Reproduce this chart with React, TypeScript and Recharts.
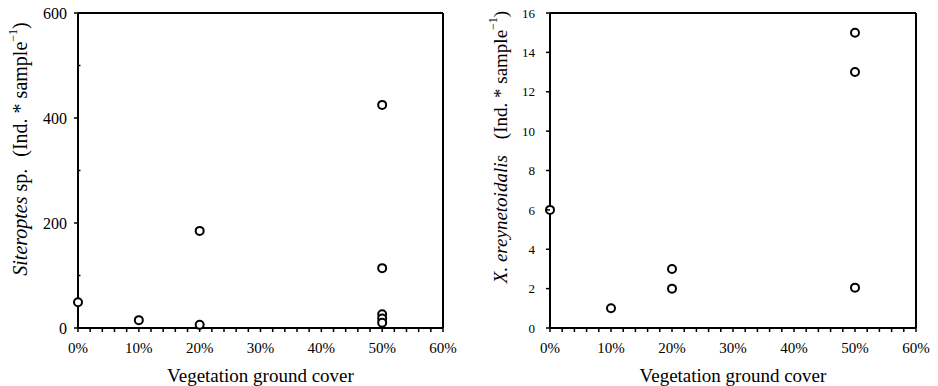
import { Label, ReferenceLine, Scatter, ScatterChart, XAxis, YAxis } from "recharts";

// % vegetation ground cover per sample
const coverLeft = [0, 10, 20, 20, 50, 50, 50, 50, 50];
const siteroptes = [49, 15, 185, 6, 425, 114, 26, 18, 10];

const coverRight = [0, 10, 20, 20, 50, 50, 50];
const ereynetoidalis = [6, 1, 3, 2, 15, 13, 2.05];

const xTicks = [0, 2, 4, 6, 8, 10, 12, 14, 16, 18, 20, 22, 24, 26, 28, 30, 32, 34, 36, 38, 40, 42, 44, 46, 48, 50, 52, 54, 56, 58, 60];
const leftYTicks = [0, 100, 200, 300, 400, 500, 600];
const rightYTicks = [0, 2, 4, 6, 8, 10, 12, 14, 16];

const font = "'Liberation Serif', 'Times New Roman', serif";

const leftData = coverLeft.map((x, i) => ({ x, y: siteroptes[i] }));
const rightData = coverRight.map((x, i) => ({ x, y: ereynetoidalis[i] }));

const OpenCircle = (props: any) => (
  <circle cx={props.cx} cy={props.cy} r={4} fill="#fff" stroke="#000" strokeWidth={2} />
);

// x axis: ticks every 2%, labels every 10%
const XTick = (props: any) => {
  const { x, y, payload } = props;
  const ay = y - 14;
  return (
    <g>
      <line x1={x} x2={x} y1={ay} y2={ay + 4} stroke="#000" strokeWidth={1.5} />
      {payload.value % 10 === 0 && (
        <text x={x} y={y} dy="0.72em" textAnchor="middle" fontSize={15} fontFamily={font} fill="#000">
          {`${payload.value}%`}
        </text>
      )}
    </g>
  );
};

// left chart: labelled ticks outward, unlabelled minor ticks inward
const LeftTick = (props: any) => {
  const { x, y, payload } = props;
  const ax = x + 11;
  if (payload.value % 200 !== 0) {
    return <line x1={ax} x2={ax + 2.5} y1={y} y2={y} stroke="#000" strokeWidth={1.5} />;
  }
  return (
    <g>
      <line x1={ax} x2={ax - 4} y1={y} y2={y} stroke="#000" strokeWidth={1.5} />
      <text x={x} y={y} dy="0.36em" textAnchor="end" fontSize={16} fontFamily={font} fill="#000">
        {payload.value}
      </text>
    </g>
  );
};

const RightTick = (props: any) => {
  const { x, y, payload } = props;
  const ax = x + 15;
  return (
    <g>
      <line x1={ax} x2={ax - 4} y1={y} y2={y} stroke="#000" strokeWidth={1.5} />
      <text x={x} y={y} dy="0.36em" textAnchor="end" fontSize={13} fontFamily={font} fill="#000">
        {payload.value}
      </text>
    </g>
  );
};

const leftLabel = (props: any) => {
  const vb = props.viewBox;
  const cx = vb.x + 20;
  const cy = 149;
  return (
    <text x={cx} y={cy} transform={`rotate(-90 ${cx} ${cy})`} textAnchor="middle" dominantBaseline="central" fontSize={20} fontFamily={font} fill="#000">
      <tspan fontStyle="italic">Siteroptes</tspan>
      <tspan> sp.</tspan>
      <tspan dx={12}>(Ind. * sample</tspan>
      <tspan fontSize={12} dy={-7}>−1</tspan>
      <tspan dy={7}>)</tspan>
    </text>
  );
};

const rightLabel = (props: any) => {
  const vb = props.viewBox;
  const cx = vb.x + 30;
  const cy = 147;
  return (
    <text x={cx} y={cy} transform={`rotate(-90 ${cx} ${cy})`} textAnchor="middle" dominantBaseline="central" fontSize={19} fontFamily={font} fill="#000">
      <tspan fontStyle="italic">X. ereynetoidalis</tspan>
      <tspan dx={16}>(Ind. * sample</tspan>
      <tspan fontSize={12} dy={-7}>−1</tspan>
      <tspan dy={7}>)</tspan>
    </text>
  );
};

const axisStyle = { stroke: "#000", strokeWidth: 2 };

export default function App() {
  return (
    <div style={{ position: "absolute", left: 0, top: 0, width: 938, height: 386, background: "#fff", display: "flex" }}>
      <ScatterChart width={470} height={386} margin={{ top: 13, right: 27, bottom: 0, left: 0 }}>
        <XAxis
          type="number"
          dataKey="x"
          domain={[0, 60]}
          ticks={xTicks}
          interval={0}
          tickSize={4}
          tickMargin={10}
          height={58}
          axisLine={axisStyle}
          tickLine={false}
          tick={<XTick />}
        >
          <Label value="Vegetation ground cover" position="insideBottom" offset={4} fontSize={19} fontFamily={font} fill="#000" />
        </XAxis>
        <YAxis
          type="number"
          dataKey="y"
          domain={[0, 600]}
          ticks={leftYTicks}
          interval={0}
          width={78}
          tickSize={4}
          tickMargin={7}
          axisLine={axisStyle}
          tickLine={false}
          tick={<LeftTick />}
        >
          <Label content={leftLabel} />
        </YAxis>
        <ReferenceLine y={600} stroke="#000" strokeWidth={2} />
        <ReferenceLine x={60} stroke="#000" strokeWidth={2} />
        <Scatter data={leftData} shape={OpenCircle} isAnimationActive={false} />
      </ScatterChart>
      <ScatterChart width={468} height={386} margin={{ top: 13, right: 22, bottom: 0, left: 0 }}>
        <XAxis
          type="number"
          dataKey="x"
          domain={[0, 60]}
          ticks={xTicks}
          interval={0}
          tickSize={4}
          tickMargin={10}
          height={58}
          axisLine={axisStyle}
          tickLine={false}
          tick={<XTick />}
        >
          <Label value="Vegetation ground cover" position="insideBottom" offset={4} fontSize={19} fontFamily={font} fill="#000" />
        </XAxis>
        <YAxis
          type="number"
          dataKey="y"
          domain={[0, 16]}
          ticks={rightYTicks}
          interval={0}
          width={80}
          tickSize={4}
          tickMargin={11}
          axisLine={axisStyle}
          tickLine={false}
          tick={<RightTick />}
        >
          <Label content={rightLabel} />
        </YAxis>
        <ReferenceLine y={16} stroke="#000" strokeWidth={2} />
        <ReferenceLine x={60} stroke="#000" strokeWidth={2} />
        <Scatter data={rightData} shape={OpenCircle} isAnimationActive={false} />
      </ScatterChart>
    </div>
  );
}
